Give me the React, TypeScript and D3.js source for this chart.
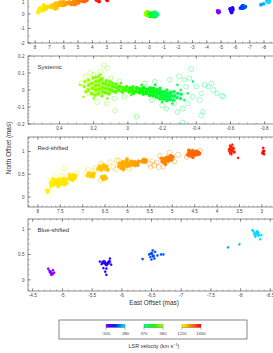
import React from 'react';
import * as d3 from 'd3';

// [east offset (mas), north offset (mas), LSR velocity (km/s), flux]
type Spot = [number, number, number, number];

const redSpots: Spot[] = [
  [7.80, 0.15, 1222, 2], [7.77, 0.12, 1223, 2], [7.74, 0.17, 1225, 1], [7.79, 0.09, 1222, 1],
  [7.71, 0.29, 1232, 3], [7.68, 0.34, 1234, 3], [7.65, 0.27, 1235, 3], [7.63, 0.32, 1236, 3],
  [7.61, 0.37, 1237, 3], [7.58, 0.29, 1238, 3], [7.56, 0.34, 1240, 3], [7.53, 0.27, 1241, 3],
  [7.52, 0.39, 1241, 3], [7.50, 0.32, 1242, 3], [7.47, 0.36, 1244, 3], [7.45, 0.29, 1245, 3],
  [7.43, 0.40, 1246, 3], [7.41, 0.34, 1247, 3], [7.38, 0.38, 1248, 3], [7.36, 0.31, 1249, 3],
  [7.66, 0.40, 1235, 2], [7.70, 0.24, 1233, 2], [7.55, 0.23, 1240, 2], [7.40, 0.27, 1247, 2],
  [7.40, 0.63, 1247, 5], [7.62, 0.44, 1237, 4], [7.48, 0.46, 1243, 5], [7.73, 0.36, 1232, 4], [7.35, 0.45, 1249, 4],
  [7.31, 0.41, 1255, 3], [7.28, 0.46, 1257, 3], [7.26, 0.39, 1258, 3], [7.23, 0.44, 1260, 3],
  [7.20, 0.48, 1261, 3], [7.18, 0.41, 1262, 3], [7.16, 0.46, 1264, 3], [7.22, 0.37, 1260, 2],
  [7.29, 0.50, 1256, 2], [7.14, 0.52, 1265, 4],
  [6.89, 0.47, 1285, 3], [6.86, 0.52, 1287, 3], [6.83, 0.46, 1289, 3], [6.80, 0.50, 1291, 3],
  [6.77, 0.45, 1292, 3], [6.75, 0.51, 1294, 3], [6.88, 0.60, 1286, 4], [6.73, 0.58, 1295, 5], [6.93, 0.53, 1283, 4],
  [6.65, 0.62, 1305, 3], [6.62, 0.67, 1307, 3], [6.59, 0.60, 1309, 3], [6.56, 0.65, 1311, 3],
  [6.53, 0.70, 1312, 3], [6.50, 0.62, 1314, 3], [6.47, 0.67, 1316, 3], [6.44, 0.60, 1318, 3],
  [6.72, 0.63, 1302, 5], [6.32, 0.66, 1325, 5], [6.39, 0.77, 1321, 4], [6.24, 0.81, 1332, 5], [6.60, 0.74, 1309, 4],
  [6.57, 0.44, 1309, 3], [6.54, 0.39, 1311, 3], [6.51, 0.45, 1313, 3], [6.48, 0.41, 1315, 3], [6.60, 0.36, 1308, 4],
  [6.19, 0.68, 1338, 3], [6.17, 0.74, 1340, 3], [6.14, 0.64, 1342, 3], [6.12, 0.70, 1344, 3],
  [6.10, 0.77, 1345, 3], [6.07, 0.66, 1347, 3], [6.05, 0.72, 1349, 3], [6.02, 0.79, 1351, 3],
  [6.00, 0.68, 1352, 3], [5.97, 0.74, 1354, 3], [5.94, 0.70, 1357, 3], [5.92, 0.78, 1358, 3],
  [6.09, 0.60, 1346, 2], [6.01, 0.84, 1351, 2], [6.26, 0.61, 1334, 5], [6.20, 0.80, 1338, 5], [5.96, 0.62, 1355, 4],
  [5.88, 0.72, 1366, 3], [5.85, 0.77, 1368, 3], [5.83, 0.70, 1370, 3], [5.80, 0.75, 1372, 3],
  [5.77, 0.71, 1374, 3], [5.75, 0.78, 1376, 3],
  [5.67, 0.78, 1382, 3], [5.64, 0.82, 1384, 3], [5.61, 0.77, 1386, 3], [5.59, 0.81, 1388, 3],
  [5.50, 0.73, 1395, 5], [5.45, 0.79, 1399, 4], [5.40, 0.70, 1403, 5], [5.35, 0.76, 1407, 4],
  [5.30, 0.66, 1410, 5], [5.48, 0.66, 1397, 4],
  [5.22, 0.78, 1414, 3], [5.19, 0.84, 1416, 3], [5.17, 0.76, 1418, 3], [5.14, 0.81, 1420, 3],
  [5.12, 0.87, 1422, 3], [5.09, 0.79, 1424, 3], [5.07, 0.85, 1426, 3], [5.04, 0.90, 1428, 3],
  [5.02, 0.82, 1430, 3], [4.99, 0.88, 1432, 3], [5.15, 0.72, 1419, 2], [5.25, 0.85, 1412, 2],
  [5.06, 0.97, 1427, 5], [4.87, 0.93, 1441, 5], [5.28, 0.91, 1411, 4], [4.95, 0.78, 1435, 4], [5.20, 0.66, 1415, 4],
  [4.65, 0.93, 1462, 3], [4.62, 0.98, 1464, 3], [4.60, 0.91, 1466, 3], [4.57, 0.96, 1468, 3],
  [4.55, 1.01, 1470, 3], [4.52, 0.92, 1472, 3], [4.50, 0.97, 1474, 3], [4.47, 1.00, 1476, 3],
  [4.45, 0.94, 1477, 3], [4.42, 0.98, 1479, 3], [4.40, 0.95, 1480, 3], [4.63, 1.03, 1463, 2],
  [4.54, 0.87, 1471, 2], [4.38, 1.02, 1481, 4], [4.68, 0.88, 1461, 4],
  [3.72, 1.05, 1596, 2], [3.69, 1.10, 1598, 2], [3.67, 1.02, 1600, 2], [3.70, 0.97, 1597, 2],
  [3.64, 1.07, 1602, 2], [3.66, 1.15, 1601, 1], [3.73, 1.01, 1595, 1], [3.62, 0.99, 1604, 2],
  [3.68, 0.94, 1599, 1], [3.71, 1.13, 1597, 1], [3.53, 0.86, 1610, 1],
  [2.97, 1.08, 1643, 1], [2.96, 1.01, 1645, 2], [2.98, 0.97, 1644, 2], [2.95, 0.94, 1647, 1],
];

const systemicSpots: Spot[] = [
  [0.255, 0.02, 572, 2], [0.25, 0.05, 571, 2], [0.245, -0.01, 570, 2],
  [0.232, 0.0, 568, 3], [0.228, 0.03, 567, 3], [0.23, 0.06, 568, 2],
  [0.212, -0.02, 564, 3], [0.208, 0.01, 563, 3], [0.21, 0.04, 564, 3], [0.205, 0.07, 562, 2],
  [0.192, -0.03, 560, 3], [0.188, 0.0, 559, 3], [0.19, 0.025, 560, 3], [0.186, 0.05, 558, 3], [0.19, 0.075, 559, 2],
  [0.172, -0.02, 556, 3], [0.168, 0.005, 555, 3], [0.17, 0.03, 556, 3], [0.166, 0.055, 554, 3], [0.172, 0.08, 556, 2],
  [0.152, -0.035, 551, 2], [0.148, -0.01, 550, 3], [0.15, 0.015, 551, 3], [0.146, 0.04, 549, 3], [0.152, 0.065, 551, 3],
  [0.132, -0.015, 546, 3], [0.128, 0.01, 545, 3], [0.13, 0.035, 546, 3], [0.126, 0.055, 544, 2],
  [0.112, -0.02, 540, 3], [0.108, 0.005, 539, 3], [0.11, 0.03, 540, 3], [0.106, 0.05, 538, 2],
  [0.092, -0.005, 533, 3], [0.088, 0.02, 532, 3], [0.09, 0.04, 533, 2],
  [0.072, -0.01, 526, 3], [0.068, 0.015, 525, 3], [0.07, 0.035, 526, 2],
  [0.052, 0.0, 519, 3], [0.048, 0.02, 518, 3],
  [0.032, -0.01, 511, 3], [0.028, 0.012, 510, 3],
  [0.012, 0.0, 503, 3], [0.008, 0.02, 502, 2],
  [-0.008, -0.01, 496, 3], [-0.012, 0.01, 495, 3],
  [-0.028, 0.0, 489, 3], [-0.032, -0.018, 488, 3], [-0.03, 0.018, 489, 2],
  [-0.048, -0.008, 482, 3], [-0.052, 0.012, 481, 3],
  [-0.068, -0.015, 476, 3], [-0.072, 0.005, 475, 3],
  [-0.088, -0.008, 470, 3], [-0.092, 0.012, 469, 3], [-0.09, -0.025, 470, 2],
  [-0.108, -0.018, 464, 3], [-0.112, 0.002, 463, 3],
  [-0.128, -0.03, 458, 3], [-0.132, -0.01, 457, 3], [-0.13, 0.01, 458, 3],
  [-0.148, -0.032, 452, 3], [-0.152, -0.012, 451, 3], [-0.15, 0.008, 452, 3],
  [-0.168, -0.04, 446, 3], [-0.172, -0.02, 445, 3], [-0.17, 0.0, 446, 3],
  [-0.188, -0.05, 440, 3], [-0.192, -0.03, 439, 3], [-0.19, -0.01, 440, 3], [-0.188, 0.01, 440, 2],
  [-0.208, -0.052, 434, 3], [-0.212, -0.032, 433, 3], [-0.21, -0.012, 434, 3],
  [-0.228, -0.06, 428, 3], [-0.232, -0.04, 427, 3], [-0.23, -0.02, 428, 3], [-0.228, 0.0, 428, 2],
  [-0.248, -0.055, 422, 3], [-0.252, -0.035, 421, 3], [-0.25, -0.015, 422, 3],
  [-0.268, -0.06, 416, 2], [-0.272, -0.035, 415, 3], [-0.27, -0.01, 416, 2],
  [-0.288, -0.045, 410, 2], [-0.292, -0.02, 409, 2],
  [-0.308, -0.05, 404, 2], [-0.312, -0.025, 403, 2], [-0.31, 0.0, 404, 1],
  [0.14, 0.147, 550, 4], [0.12, 0.13, 545, 4], [0.22, 0.10, 565, 5], [0.25, 0.08, 570, 4],
  [0.27, 0.04, 575, 5], [0.18, -0.07, 555, 5], [0.124, -0.08, 545, 4], [0.075, -0.12, 530, 4],
  [0.23, -0.02, 565, 4], [0.20, 0.09, 560, 4], [0.16, 0.11, 552, 5], [0.10, 0.07, 540, 4],
  [0.08, -0.05, 532, 4], [0.05, 0.05, 515, 4], [-0.05, -0.157, 470, 4], [-0.157, 0.05, 448, 4],
  [-0.245, 0.06, 430, 4], [-0.30, 0.08, 415, 5], [-0.33, 0.06, 410, 4], [-0.37, 0.124, 400, 5],
  [-0.36, 0.07, 402, 4], [-0.45, 0.03, 390, 5], [-0.47, 0.02, 388, 4], [-0.50, 0.0, 385, 5],
  [-0.52, -0.02, 382, 4], [-0.55, -0.035, 378, 5], [-0.56, -0.04, 375, 4], [-0.43, -0.02, 392, 4],
  [-0.42, -0.06, 394, 5], [-0.44, -0.128, 390, 4], [-0.43, -0.15, 392, 5], [-0.32, -0.11, 412, 5],
  [-0.29, -0.13, 418, 4], [-0.32, -0.19, 412, 4], [-0.225, -0.11, 432, 4], [-0.20, -0.09, 436, 4],
  [-0.49, 0.04, 386, 4], [-0.40, 0.02, 396, 4], [-0.38, -0.04, 398, 5], [-0.35, -0.08, 404, 4],
  [-0.27, -0.08, 422, 4], [-0.34, 0.02, 406, 4], [-0.14, -0.06, 450, 4], [-0.10, 0.04, 462, 4],
  [0.02, -0.04, 505, 4],
  [0.28, 0.03, 576, 1], [0.26, -0.04, 572, 1], [0.2, -0.05, 562, 1], [0.16, 0.09, 553, 1],
  [0.12, -0.05, 542, 1], [0.04, 0.04, 514, 1], [-0.02, -0.03, 492, 1], [-0.08, 0.03, 472, 1],
  [-0.16, 0.03, 448, 1], [-0.2, -0.07, 437, 1], [-0.26, -0.08, 420, 1], [-0.33, -0.06, 400, 1],
  [-0.35, -0.02, 398, 1], [-0.29, 0.03, 410, 1], [-0.38, 0.05, 395, 1],
];

const blueSpots: Spot[] = [
  [-4.80, 0.15, -514, 2], [-4.83, 0.12, -515, 2], [-4.78, 0.18, -512, 1], [-4.86, 0.14, -516, 1],
  [-4.81, 0.10, -514, 1], [-4.76, 0.22, -511, 1], [-4.84, 0.19, -515, 1],
  [-5.72, 0.33, -480, 2], [-5.63, 0.36, -484, 1], [-5.79, 0.36, -477, 2], [-5.80, 0.42, -476, 1],
  [-5.74, 0.30, -479, 2], [-5.69, 0.23, -482, 1], [-5.72, 0.16, -480, 1], [-5.74, 0.10, -479, 1],
  [-5.66, 0.31, -483, 1], [-5.82, 0.30, -475, 1], [-5.70, 0.36, -481, 2], [-5.74, 0.22, -479, 1],
  [-5.77, 0.33, -478, 2], [-5.68, 0.34, -482, 2],
  [-6.50, 0.52, -440, 2], [-6.53, 0.47, -439, 2], [-6.48, 0.45, -441, 1], [-6.56, 0.55, -438, 1],
  [-6.52, 0.58, -440, 1], [-6.46, 0.50, -442, 1], [-6.60, 0.48, -436, 1], [-6.66, 0.50, -434, 1],
  [-6.70, 0.50, -432, 1], [-6.55, 0.42, -438, 1], [-6.35, 0.41, -446, 1], [-6.50, 0.40, -440, 1],
  [-8.27, 0.92, -386, 2], [-8.22, 0.95, -388, 1], [-8.30, 0.88, -385, 2], [-8.25, 0.85, -387, 1],
  [-8.33, 0.80, -384, 1], [-8.20, 0.98, -389, 1], [-8.28, 0.96, -386, 1], [-8.35, 0.88, -383, 1],
  [-8.24, 0.90, -387, 2], [-8.30, 0.93, -385, 1], [-7.98, 0.70, -398, 1], [-7.79, 0.64, -404, 1],
];

const overviewXTicks = [8, 7, 6, 5, 4, 3, 2, 1, 0, -1, -2, -3, -4, -5, -6, -7, -8];
const overviewYTicks = [-2, -1, 0, 1];
const systemicXTicks = [0.4, 0.2, 0, -0.2, -0.4, -0.6, -0.8];
const systemicYTicks = [-0.2, -0.1, 0, 0.1, 0.2];
const redXTicks = [8, 7.5, 7, 6.5, 6, 5.5, 5, 4.5, 4, 3.5, 3];
const redYTicks = [0, 0.5, 1];
const blueXTicks = [-4.5, -5, -5.5, -6, -6.5, -7, -7.5, -8, -8.5];
const blueYTicks = [0, 0.5, 1];
const legendRanges: [number, number][] = [[-520, -380], [370, 580], [1220, 1650]];

const W = 273;
const H = 353;
const LEFT = 28;
const RIGHT = 278;
const FONT = "'Liberation Sans', Arial, Helvetica, sans-serif";

const blueHue = d3.scaleLinear().domain([-520, -380]).range([275, 185]).clamp(true);
const sysHue = d3.scaleLinear().domain([370, 580]).range([155, 80]).clamp(true);
const redHue = d3.scaleLinear().domain([1220, 1650]).range([58, 0]).clamp(true);

function velColor(v: number) {
  const h = v < 0 ? blueHue(v) : v < 1000 ? sysHue(v) : redHue(v);
  return d3.hsl(h, 1, 0.5).formatHex();
}

const rScale = d3.scaleSqrt().domain([0, 6]).range([0, 2.8]);
const fmt = (v: number) => String(+v.toFixed(2));

function minor(domain: number[], step: number) {
  const lo = Math.min(domain[0], domain[1]);
  const hi = Math.max(domain[0], domain[1]);
  return d3.range(Math.ceil(lo / step - 1e-6) * step, hi + 1e-9, step);
}

type PanelProps = {
  id: string;
  top: number;
  bottom: number;
  xDomain: [number, number];
  yDomain: [number, number];
  xTicks: number[];
  yTicks: number[];
  xMinor: number;
  yMinor: number;
  spots: Spot[];
  title?: string;
  overview?: boolean;
};

function Panel(p: PanelProps) {
  const x = d3.scaleLinear().domain(p.xDomain).range([LEFT, RIGHT]);
  const y = d3.scaleLinear().domain(p.yDomain).range([p.bottom, p.top]);
  const tc = '#444';
  return (
    <g>
      <clipPath id={`clip-${p.id}`}>
        <rect x={LEFT} y={p.top} width={RIGHT - LEFT} height={p.bottom - p.top} />
      </clipPath>
      <g clipPath={`url(#clip-${p.id})`}>
        {p.spots.map((s, i) => {
          const c = velColor(s[2]);
          if (p.overview) {
            return <circle key={i} cx={x(s[0])} cy={y(s[1])} r={1.9} fill={c} />;
          }
          const open = s[3] >= 4;
          return (
            <circle key={i} cx={x(s[0])} cy={y(s[1])} r={rScale(s[3])}
              fill={open ? 'none' : c} stroke={c} strokeWidth={open ? 0.45 : 0.3}
              strokeOpacity={open ? 0.85 : 1} />
          );
        })}
      </g>
      <rect x={LEFT} y={p.top} width={RIGHT - LEFT} height={p.bottom - p.top}
        fill="none" stroke={tc} strokeWidth={0.6} />
      {minor(x.domain(), p.xMinor).map((t, i) => (
        <g key={`xm${i}`} stroke={tc} strokeWidth={0.4}>
          <line x1={x(t)} x2={x(t)} y1={p.bottom} y2={p.bottom - 1.4} />
          <line x1={x(t)} x2={x(t)} y1={p.top} y2={p.top + 1.4} />
        </g>
      ))}
      {minor(y.domain(), p.yMinor).map((t, i) => (
        <g key={`ym${i}`} stroke={tc} strokeWidth={0.4}>
          <line x1={LEFT} x2={LEFT + 1.4} y1={y(t)} y2={y(t)} />
          <line x1={RIGHT} x2={RIGHT - 1.4} y1={y(t)} y2={y(t)} />
        </g>
      ))}
      {p.xTicks.map((t) => (
        <g key={`x${t}`}>
          <line x1={x(t)} x2={x(t)} y1={p.bottom} y2={p.bottom - 3} stroke={tc} strokeWidth={0.5} />
          <line x1={x(t)} x2={x(t)} y1={p.top} y2={p.top + 3} stroke={tc} strokeWidth={0.5} />
          <text x={x(t)} y={p.bottom + 5.6} fontSize={4.6} textAnchor="middle" fill="#444" fontFamily={FONT}>
            {fmt(t)}
          </text>
        </g>
      ))}
      {p.yTicks.map((t) => (
        <g key={`y${t}`}>
          <line x1={LEFT} x2={LEFT + 3} y1={y(t)} y2={y(t)} stroke={tc} strokeWidth={0.5} />
          <line x1={RIGHT} x2={RIGHT - 3} y1={y(t)} y2={y(t)} stroke={tc} strokeWidth={0.5} />
          <text x={LEFT - 3.5} y={Math.max(y(t) + 1.7, 3.6)} fontSize={4.6} textAnchor="end" fill="#444" fontFamily={FONT}>
            {fmt(t)}
          </text>
        </g>
      ))}
      {p.title && (
        <text x={37.5} y={p.top + 12.5} fontSize={6} fill="#333" fontFamily={FONT}>{p.title}</text>
      )}
    </g>
  );
}

function Legend() {
  const barX = [106, 144, 182];
  const barW = 19;
  return (
    <g>
      <defs>
        {legendRanges.map((r, i) => (
          <linearGradient key={i} id={`lg${i}`} x1="0" x2="1" y1="0" y2="0">
            {d3.range(0, 1.0001, 0.25).map((o) => (
              <stop key={o} offset={o} stopColor={velColor(r[0] + (r[1] - r[0]) * o)} />
            ))}
          </linearGradient>
        ))}
      </defs>
      <rect x={59} y={320} width={188} height={19} fill="none" stroke="#555" strokeWidth={0.7} />
      {legendRanges.map((r, i) => (
        <g key={i}>
          <rect x={barX[i]} y={324} width={barW} height={3.5} fill={`url(#lg${i})`} />
          <g stroke="#555" strokeWidth={0.4}>
            <line x1={barX[i]} x2={barX[i] + barW} y1={327.5} y2={327.5} />
            <line x1={barX[i]} x2={barX[i]} y1={324} y2={330} />
            <line x1={barX[i] + barW} x2={barX[i] + barW} y1={324} y2={330} />
          </g>
          <text x={barX[i]} y={335.3} fontSize={4.2} textAnchor="middle" fill="#444" fontFamily={FONT}>{r[0]}</text>
          <text x={barX[i] + barW} y={335.3} fontSize={4.2} textAnchor="middle" fill="#444" fontFamily={FONT}>{r[1]}</text>
        </g>
      ))}
      <text x={154} y={347.8} fontSize={5.4} textAnchor="middle" fill="#333" fontFamily={FONT}>
        LSR velocity (km s<tspan dy={-2} fontSize={3.8}>−1</tspan><tspan dy={2}>)</tspan>
      </text>
    </g>
  );
}

export default function App() {
  const allSpots = [...redSpots, ...systemicSpots, ...blueSpots];
  return (
    <svg width={W} height={H} viewBox={`0 0 ${W} ${H}`}
      style={{ position: 'absolute', left: 0, top: 0, background: '#fff' }}>
      <rect width={W} height={H} fill="#fff" />
      <Panel id="all" top={-15} bottom={43} xDomain={[8.5, -8.98]} yDomain={[-2, 2]}
        xTicks={overviewXTicks} yTicks={overviewYTicks} xMinor={0.5} yMinor={0.5}
        spots={allSpots} overview />
      <Panel id="sys" top={56} bottom={124} xDomain={[0.584, -0.878]} yDomain={[-0.2, 0.2]}
        xTicks={systemicXTicks} yTicks={systemicYTicks} xMinor={0.05} yMinor={0.02}
        spots={systemicSpots} title="Systemic" />
      <Panel id="red" top={137} bottom={207} xDomain={[8.22, 2.64]} yDomain={[-0.22, 1.32]}
        xTicks={redXTicks} yTicks={redYTicks} xMinor={0.1} yMinor={0.1}
        spots={redSpots} title="Red-shifted" />
      <Panel id="blue" top={219} bottom={291} xDomain={[-4.42, -8.63]} yDomain={[-0.22, 1.2]}
        xTicks={blueXTicks} yTicks={blueYTicks} xMinor={0.1} yMinor={0.1}
        spots={blueSpots} title="Blue-shifted" />
      <text transform="translate(10.5,148) rotate(-90)" fontSize={6.4} textAnchor="middle"
        fill="#333" fontFamily={FONT}>North Offset (mas)</text>
      <text x={154} y={305.3} fontSize={6.4} textAnchor="middle" fill="#333" fontFamily={FONT}>
        East Offset (mas)
      </text>
      <Legend />
    </svg>
  );
}
